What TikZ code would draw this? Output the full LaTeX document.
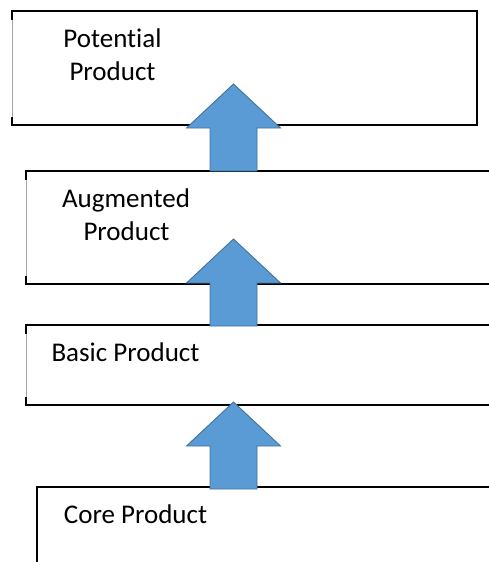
\documentclass[tikz,border=0pt]{standalone}
\usepackage{fontspec}
\setmainfont[Ligatures={NoCommon,NoContextual}]{Carlito}
\definecolor{arrowfill}{HTML}{5B9BD5}
\definecolor{arrowedge}{HTML}{41719C}
\begin{document}
\begin{tikzpicture}[x=1pt,y=-1pt,
  edge/.style={draw=black,line width=1.6pt},
  faint/.style={draw=black!35,line width=0.7pt},
  label/.style={font=\fontsize{27}{33}\selectfont,inner sep=0pt,anchor=base},
  blockarrow/.style={fill=arrowfill,draw=arrowedge,line width=0.9pt,line join=miter}]
\useasboundingbox (0,0) rectangle (489,562);

% level boxes: thick top and bottom rules, faint left side with corner ticks
% Potential Product
\draw[faint] (12,11) -- (12,125);
\draw[edge] (12,20) -- (12,11) -- (477,11) -- (477,125) -- (12,125) -- (12,117);
% Augmented Product
\draw[faint] (26,171) -- (26,284);
\draw[edge] (26,180) -- (26,171) -- (489,171);
\draw[edge] (489,284) -- (26,284) -- (26,276);
% Basic Product
\draw[faint] (26,325) -- (26,405);
\draw[edge] (26,334) -- (26,325) -- (489,325);
\draw[edge] (489,405) -- (26,405) -- (26,397);
% Core Product
\draw[edge] (37,562) -- (37,487) -- (489,487);

% labels
\node[label] (potA) at (112.5,47) {Potential};
\node[label] (potB) at (112.5,80) {Product};
\node[label] (augA) at (126,207) {Augmented};
\node[label] (augB) at (126.5,240) {Product};
\node[label] (basic) at (125.5,361) {Basic Product};
\node[label] (core) at (135.5,523) {Core Product};

% upward block arrows, tip given
\foreach \tip/\nm in {84/arrowA,239/arrowB,402/arrowC}{
  \coordinate (\nm) at (233.5,\tip);
  \draw[blockarrow] (\nm) -- ++(47,44) -- ++(-23.5,0) -- ++(0,43)
     -- ++(-47,0) -- ++(0,-43) -- ++(-23.5,0) -- cycle;
}
\end{tikzpicture}
\end{document}
